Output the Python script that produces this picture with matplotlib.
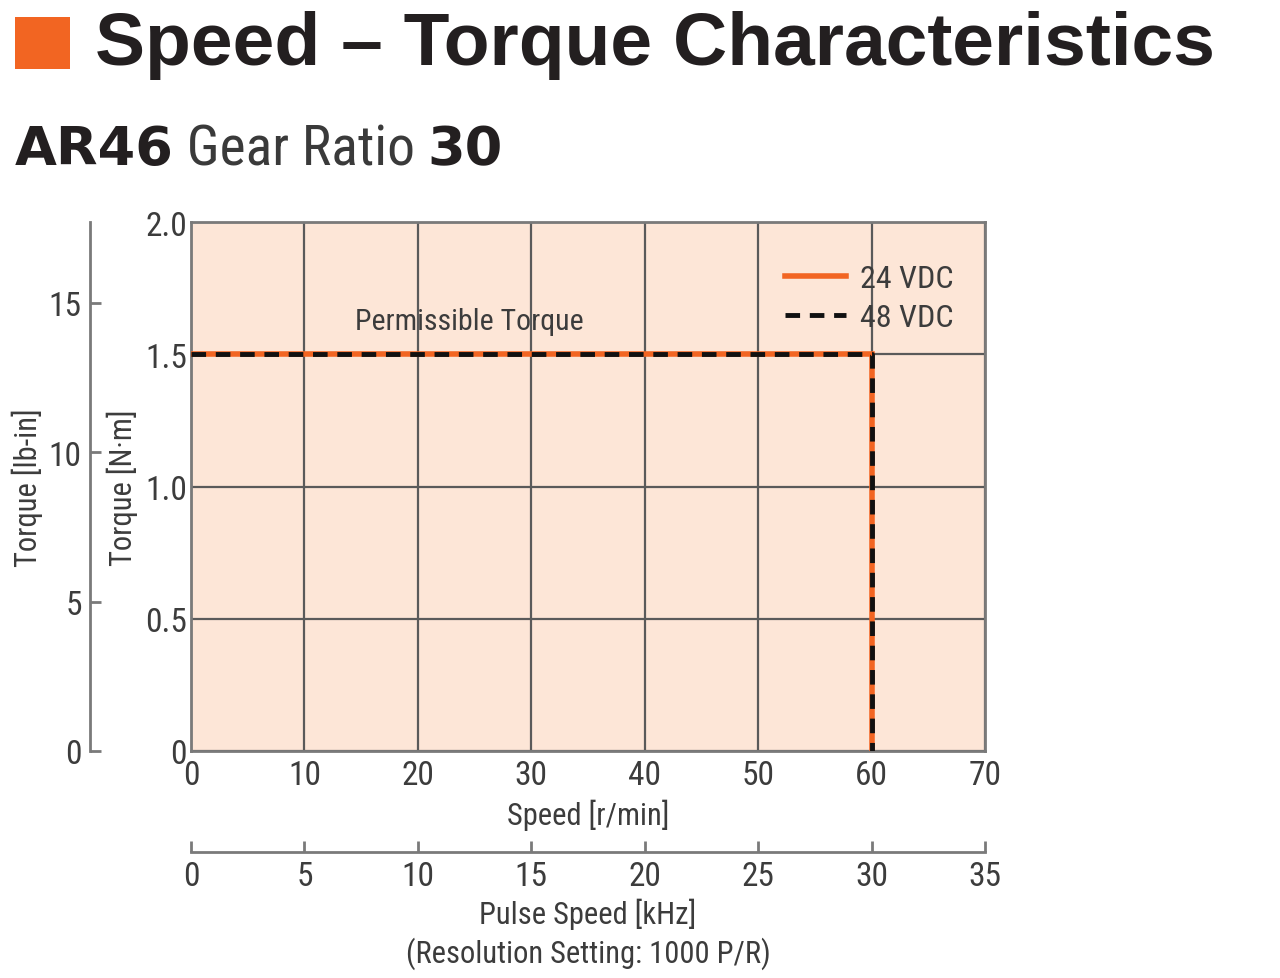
import matplotlib
matplotlib.use("Agg")
import matplotlib.pyplot as plt
from matplotlib.patches import Rectangle
from matplotlib import font_manager

# ---- data ----
speed_24 = [0, 60, 60]
torque_24 = [1.5, 1.5, 0]
speed_48 = [0, 60, 60]
torque_48 = [1.5, 1.5, 0]
x_ticks = [0, 10, 20, 30, 40, 50, 60, 70]
y_ticks = [0, 0.5, 1.0, 1.5, 2.0]
y_ticklabels = ["0", "0.5", "1.0", "1.5", "2.0"]
lbin_ticks = [0, 5, 10, 15]
khz_ticks = [0, 5, 10, 15, 20, 25, 30, 35]
NM_PER_LBIN = 0.113
RPM_PER_KHZ = 2.0

names = {f.name for f in font_manager.fontManager.ttflist}
NARROW = "DejaVu Sans"
for cand in ["Liberation Sans Narrow", "Roboto Condensed", "DejaVu Sans Condensed", "Arial Narrow"]:
    if cand in names:
        NARROW = cand
        break
BOLD = "Liberation Sans"
HEAVY = "DejaVu Sans"

W, H = 1280, 979
fig = plt.figure(figsize=(W / 100, H / 100), dpi=100)
fig.patch.set_facecolor("white")

TXT = "#3c3c3c"
GRID = "#5a5a5a"
ORANGE = "#f26522"
BG = "#fde6d7"

ax = fig.add_axes([191 / W, 1 - 752 / H, (985 - 191) / W, (752 - 223) / H])
ax.set_facecolor(BG)
ax.set_xlim(0, 70)
ax.set_ylim(0, 2.0)
ax.set_xticks(x_ticks)
ax.set_yticks(y_ticks)
ax.set_yticklabels(y_ticklabels)
ax.grid(True, color=GRID, linewidth=1.6)
ax.set_axisbelow(True)
for s in ax.spines.values():
    s.set_color("#7a7a7a")
    s.set_linewidth(2)
ax.tick_params(length=0, labelsize=24, labelcolor=TXT)
ax.tick_params(axis="y", pad=3)
ax.tick_params(axis="x", pad=6)
for lab in ax.get_xticklabels() + ax.get_yticklabels():
    lab.set_family(NARROW)

l24, = ax.plot(speed_24, torque_24, color=ORANGE, linewidth=4, solid_joinstyle="miter",
               label="24 VDC", zorder=3)
l48, = ax.plot(speed_48, torque_48, color="#111111", linewidth=3.5, linestyle=(0, (3, 2)),
               label="48 VDC", zorder=4)

leg = ax.legend(handles=[l24, l48], loc="upper right", bbox_to_anchor=(0.977, 0.945),
                frameon=False, prop={"family": NARROW, "size": 23}, handlelength=1.9,
                handletextpad=0.45, labelspacing=0.32, borderaxespad=0)
for t in leg.get_texts():
    t.set_color(TXT)

ax.text(24.5, 1.626, "Permissible Torque", ha="center", va="center",
        fontsize=21.5, family=NARROW, color=TXT)

ax.set_xlabel("Speed [r/min]", fontsize=22, family=NARROW, color=TXT)
ax.xaxis.set_label_coords(0.5, -(815 - 752) / 529)
ax.xaxis.label.set_va("center")
ax.set_ylabel("Torque [N·m]", fontsize=22, family=NARROW, color=TXT)
ax.yaxis.set_label_coords(-(191 - 122) / 794, 0.5)
ax.yaxis.label.set_va("center")

# secondary left axis: lb-in
sy = ax.secondary_yaxis(-(191 - 90) / 794,
                        functions=(lambda v: v / NM_PER_LBIN, lambda v: v * NM_PER_LBIN))
sy.set_yticks(lbin_ticks)
sy.tick_params(direction="in", length=8, width=2, color="#7a7a7a", labelsize=24,
               labelcolor=TXT, pad=6)
for lab in sy.get_yticklabels():
    lab.set_family(NARROW)
sy.spines["left"].set_color("#7a7a7a")
sy.spines["left"].set_linewidth(2)
sy.set_ylabel("Torque [lb-in]", fontsize=22, family=NARROW, color=TXT)
sy.yaxis.set_label_coords(-(191 - 27) / 794, 0.5, transform=ax.transAxes)
sy.yaxis.label.set_va("center")

# secondary bottom axis: pulse speed
sx = ax.secondary_xaxis(-(853 - 752) / 529,
                        functions=(lambda v: v / RPM_PER_KHZ, lambda v: v * RPM_PER_KHZ))
sx.set_xticks(khz_ticks)
sx.tick_params(direction="in", length=8, width=2, color="#7a7a7a", labelsize=24,
               labelcolor=TXT, pad=6)
for lab in sx.get_xticklabels():
    lab.set_family(NARROW)
sx.spines["bottom"].set_color("#7a7a7a")
sx.spines["bottom"].set_linewidth(2)
sx.set_xlabel("Pulse Speed [kHz]\n(Resolution Setting: 1000 P/R)", fontsize=22,
              family=NARROW, color=TXT, linespacing=1.3)
sx.xaxis.set_label_coords(0.5, -(934 - 752) / 529, transform=ax.transAxes)
sx.xaxis.label.set_va("center")

# title
fig.patches.append(Rectangle((15 / W, 1 - 70 / H), 55 / W, 52 / H, transform=fig.transFigure,
                             facecolor=ORANGE, edgecolor="none"))
title = fig.text(95 / W, 1 - 45 / H, "Speed – Torque Characteristics", fontsize=54,
                 fontweight="bold", family=BOLD, color="#231f20", va="center", ha="left")

# subtitle pieces
fig.canvas.draw()
r = fig.canvas.get_renderer()
y_sub = 1 - 165 / H
x = 15
parts = [("AR46", HEAVY, "bold", 39, "#231f20"), (" Gear Ratio ", NARROW, "normal", 40, "#3a3a3a"),
         ("30", HEAVY, "bold", 39, "#231f20")]
for txt, fam, wt, sz, col in parts:
    t = fig.text(x / W, y_sub, txt, fontsize=sz, family=fam, fontweight=wt, color=col,
                 va="baseline", ha="left")
    bb = t.get_window_extent(renderer=r)
    x += bb.width

fig.savefig("out.png", dpi=100)
